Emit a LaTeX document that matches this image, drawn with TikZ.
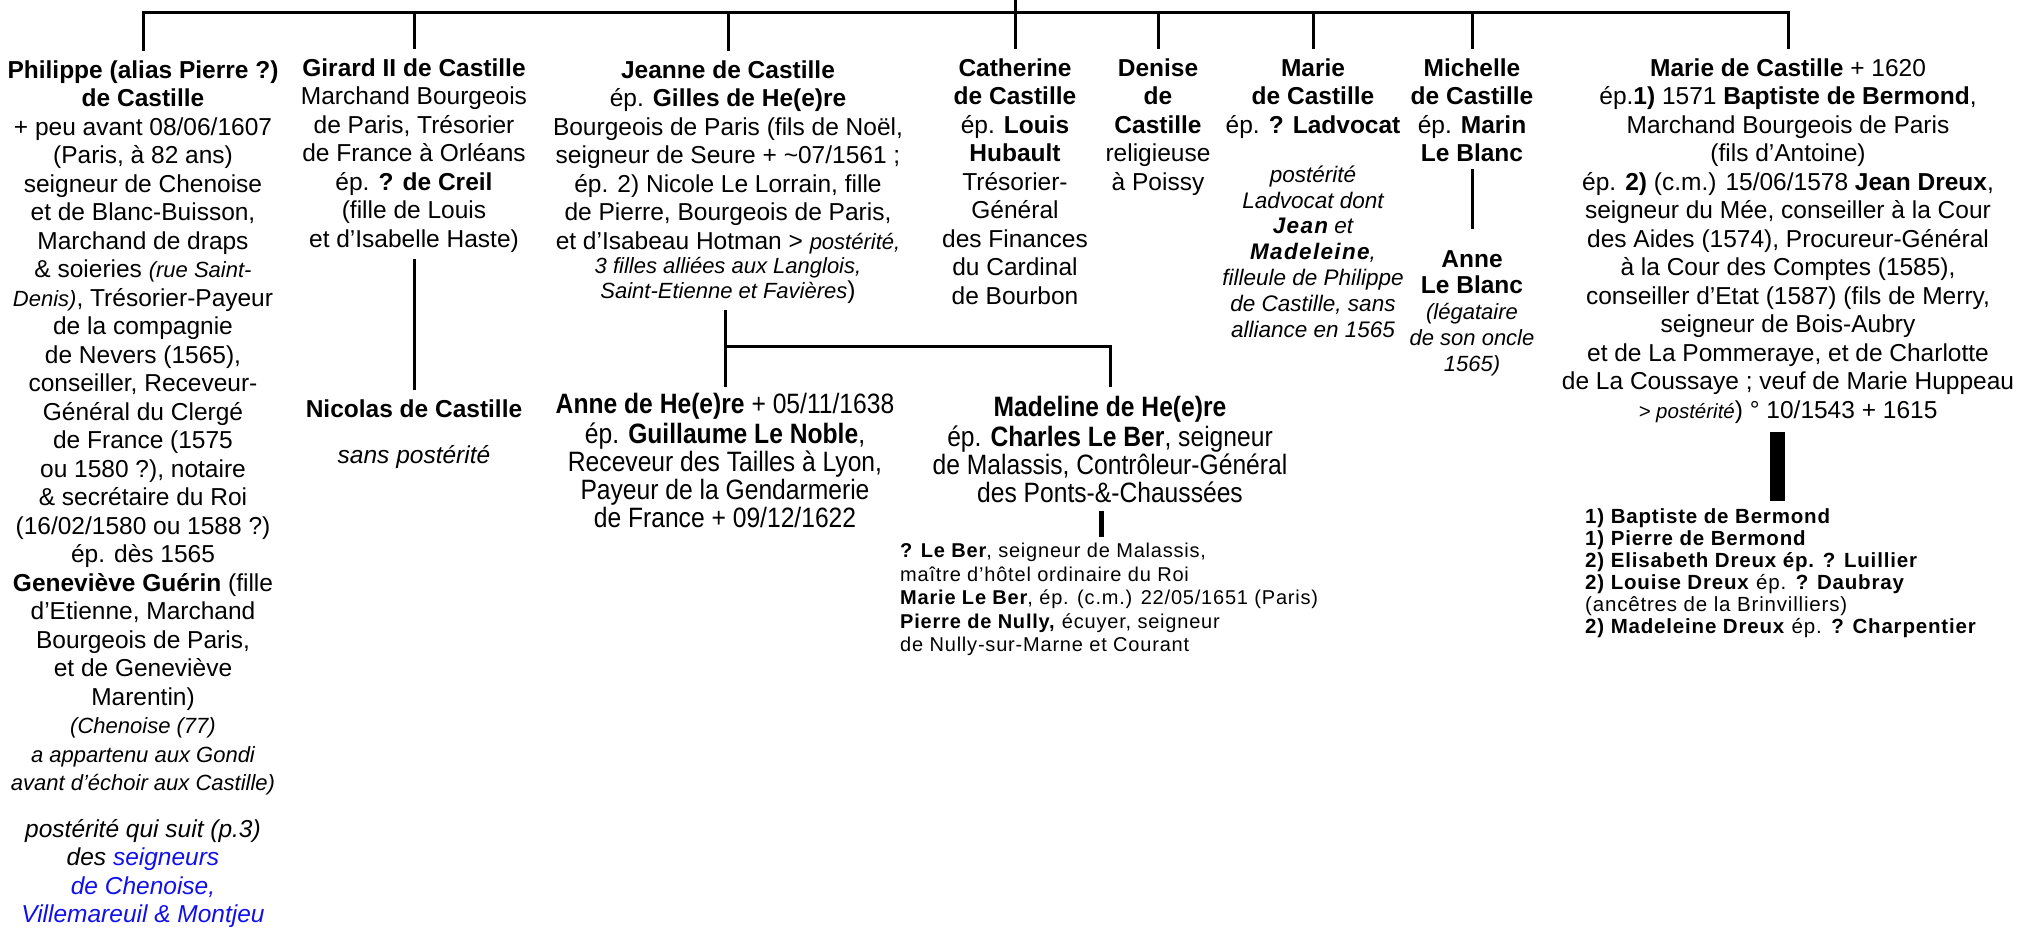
\documentclass[tikz,border=0pt]{standalone}
\usepackage{fontspec}
\usepackage{xcolor}
\setmainfont{Liberation Sans}
\newfontfamily\narrowfont[FakeStretch=0.88]{Liberation Sans}
\newfontfamily\listfont[LetterSpace=4]{Liberation Sans}
\usetikzlibrary{calc}
\definecolor{linkblue}{RGB}{16,16,235}

\newcommand{\mainfs}{\fontsize{24.5}{28.5}\selectfont}
\newcommand{\itfs}{\fontsize{22}{28.5}\selectfont\itshape}
\newcommand{\smit}[1]{{\fontsize{22}{24}\selectfont\itshape #1}}

\tikzset{
    kin/.style={line width=3pt, line cap=rect},
    thickbar/.style={line width=#1},
    person/.style={align=center, inner sep=0pt, anchor=north, font=\mainfs},
    note/.style={align=center, inner sep=0pt, anchor=north, font={\fontsize{22.5}{25.8}\selectfont\itshape}},
    narrow/.style={align=center, inner sep=0pt, anchor=north, font={\narrowfont\fontsize{28}{28}\selectfont}},
    issue/.style={align=left, inner sep=0pt, anchor=north west}
}

\begin{document}
\begin{tikzpicture}[x=1pt,y=-1pt]
    \useasboundingbox (0,0) rectangle (2023,929);

    % children of the couple
    \node[person] (philippe) at (143,58) {\strut\textbf{Philippe (alias Pierre ?)}\\
        \textbf{de Castille}\\
        + peu avant 08/06/1607\\
        (Paris, à 82 ans)\\
        seigneur de Chenoise\\
        et de Blanc-Buisson,\\
        Marchand de draps\\
        \& soieries \smit{(rue Saint-}\\
        \smit{Denis)}, Trésorier-Payeur\\
        de la compagnie\\
        de Nevers (1565),\\
        conseiller, Receveur-\\
        Général du Clergé\\
        de France (1575\\
        ou 1580 ?), notaire\\
        \& secrétaire du Roi\\
        (16/02/1580 ou 1588 ?)\\
        ép. dès 1565\\
        \textbf{Geneviève Guérin} (fille\\
        d’Etienne, Marchand\\
        Bourgeois de Paris,\\
        et de Geneviève\\
        Marentin)\\
        {\itfs (Chenoise (77)}\\
        {\itfs a appartenu aux Gondi}\\
        {\itfs avant d’échoir aux Castille)}};
    \node[person, font=\mainfs\itshape] (philpost) at (143,817) {\strut postérité qui suit (p.3)\\
        des \textcolor{linkblue}{seigneurs}\\
        \textcolor{linkblue}{de Chenoise,}\\
        \textcolor{linkblue}{Villemareuil \& Montjeu}};

    \node[person] (girard) at (414,56) {\strut\textbf{Girard II de Castille}\\
        Marchand Bourgeois\\
        de Paris, Trésorier\\
        de France à Orléans\\
        ép. \textbf{? de Creil}\\
        (fille de Louis\\
        et d’Isabelle Haste)};
    \node[person] (nicolas) at (414,397) {\strut\textbf{Nicolas de Castille}\\[17.5pt]
        \textit{sans postérité}};

    \node[person] (jeanne) at (728,58) {\strut\textbf{Jeanne de Castille}\\
        ép. \textbf{Gilles de He(e)re}\\
        Bourgeois de Paris (fils de Noël,\\
        seigneur de Seure + \textasciitilde07/1561 ;\\
        ép. 2) Nicole Le Lorrain, fille\\
        de Pierre, Bourgeois de Paris,\\
        et d’Isabeau Hotman > \smit{postérité,}\\[-4pt]
        \smit{3 filles alliées aux Langlois,}\\[-4pt]
        \smit{Saint-Etienne et Favières})};

    \node[person] (catherine) at (1015,56) {\strut\textbf{Catherine}\\
        \textbf{de Castille}\\
        ép. \textbf{Louis}\\
        \textbf{Hubault}\\
        Trésorier-\\
        Général\\
        des Finances\\
        du Cardinal\\
        de Bourbon};

    \node[person] (denise) at (1158,56) {\strut\textbf{Denise}\\
        \textbf{de}\\
        \textbf{Castille}\\
        religieuse\\
        à Poissy};

    \node[person] (marielad) at (1313,56) {\strut\textbf{Marie}\\
        \textbf{de Castille}\\
        ép. \textbf{? Ladvocat}};
    \node[note] (ladvpost) at (1313,164) {\strut postérité\\
        Ladvocat dont\\
        {\bfseries\addfontfeature{LetterSpace=6}Jean} et\\
        {\bfseries\addfontfeature{LetterSpace=6}Madeleine},\\
        filleule de Philippe\\
        de Castille, sans\\
        alliance en 1565};

    \node[person] (michelle) at (1472,56) {\strut\textbf{Michelle}\\
        \textbf{de Castille}\\
        ép. \textbf{Marin}\\
        \textbf{Le Blanc}};
    \node[person, font={\fontsize{24.5}{26}\selectfont}] (annelb) at (1472,249) {\strut\textbf{Anne}\\
        \textbf{Le Blanc}\\
        {\itfs (légataire}\\
        {\itfs de son oncle}\\
        {\itfs 1565)}};

    \node[person] (mariec) at (1788,56) {\strut\textbf{Marie de Castille} + 1620\\
        ép.\textbf{1)} 1571 \textbf{Baptiste de Bermond},\\
        Marchand Bourgeois de Paris\\
        (fils d’Antoine)\\
        ép. \textbf{2)} (c.m.) 15/06/1578 \textbf{Jean Dreux},\\
        seigneur du Mée, conseiller à la Cour\\
        des Aides (1574), Procureur-Général\\
        à la Cour des Comptes (1585),\\
        conseiller d’Etat (1587) (fils de Merry,\\
        seigneur de Bois-Aubry\\
        et de La Pommeraye, et de Charlotte\\
        de La Coussaye ; veuf de Marie Huppeau\\
        {\fontsize{20.5}{24}\selectfont\itshape > postérité}) ° 10/1543 + 1615};

    % grandchildren
    \node[narrow] (anne) at (725,393) {\strut\textbf{Anne de He(e)re} + 05/11/1638\\
        ép. \textbf{Guillaume Le Noble},\\
        Receveur des Tailles à Lyon,\\
        Payeur de la Gendarmerie\\
        de France + 09/12/1622};
    \node[narrow] (madeline) at (1110,396) {\strut\textbf{Madeline de He(e)re}\\
        ép. \textbf{Charles Le Ber}, seigneur\\
        de Malassis, Contrôleur-Général\\
        des Ponts-\&-Chaussées};
    \node[issue, font={\listfont\fontsize{20}{23.5}\selectfont}] (leber) at (900,541) {\strut\textbf{? Le Ber}, seigneur de Malassis,\\
        maître d’hôtel ordinaire du Roi\\
        \textbf{Marie Le Ber}, ép. (c.m.) 22/05/1651 (Paris)\\
        \textbf{Pierre de Nully,} écuyer, seigneur\\
        de Nully-sur-Marne et Courant};
    \node[issue, font={\listfont\fontsize{20.5}{22}\selectfont}] (dreux) at (1585,507.6) {\strut\textbf{1) Baptiste de Bermond}\\
        \textbf{1) Pierre de Bermond}\\
        \textbf{2) Elisabeth Dreux ép. ? Luillier}\\
        \textbf{2) Louise Dreux} ép. \textbf{? Daubray}\\
        (ancêtres de la Brinvilliers)\\
        \textbf{2) Madeleine Dreux} ép. \textbf{? Charpentier}};

    % connectors
    \coordinate (root) at (1015,0);
    \coordinate (rail) at (0,12);
    \draw[kin] (root) -- (root |- rail);
    \draw[kin] (philippe.north |- rail) -- (mariec.north |- rail);
    \foreach \who in {philippe,girard,jeanne,catherine,denise,marielad,michelle,mariec}
        \draw[kin] (\who.north |- rail) -- ([yshift=9pt]\who.north);

    \draw[kin] ($(girard.south)+(0,8)$) -- ($(nicolas.north)+(0,-9)$);
    \draw[kin] ($(michelle.south)+(0,8)$) -- ($(annelb.north)+(0,-22)$);
    \draw[kin] ($(anne.north |- jeanne.south)+(0,8)$) -- ($(anne.north)+(0,-8)$);
    \draw[kin] ($(anne.north)+(0,-47)$) -| ($(madeline.north)+(0,-11)$);

    \coordinate (lbtop) at ($(madeline.south)+(-9,8)$);
    \draw[thickbar=5pt] (lbtop) -- ($(lbtop |- leber.north)+(0,-4)$);
    \coordinate (dxtop) at ($(mariec.south)+(-11,9)$);
    \draw[thickbar=15pt] (dxtop) -- ($(dxtop |- dreux.north)+(0,-7)$);
\end{tikzpicture}
\end{document}
